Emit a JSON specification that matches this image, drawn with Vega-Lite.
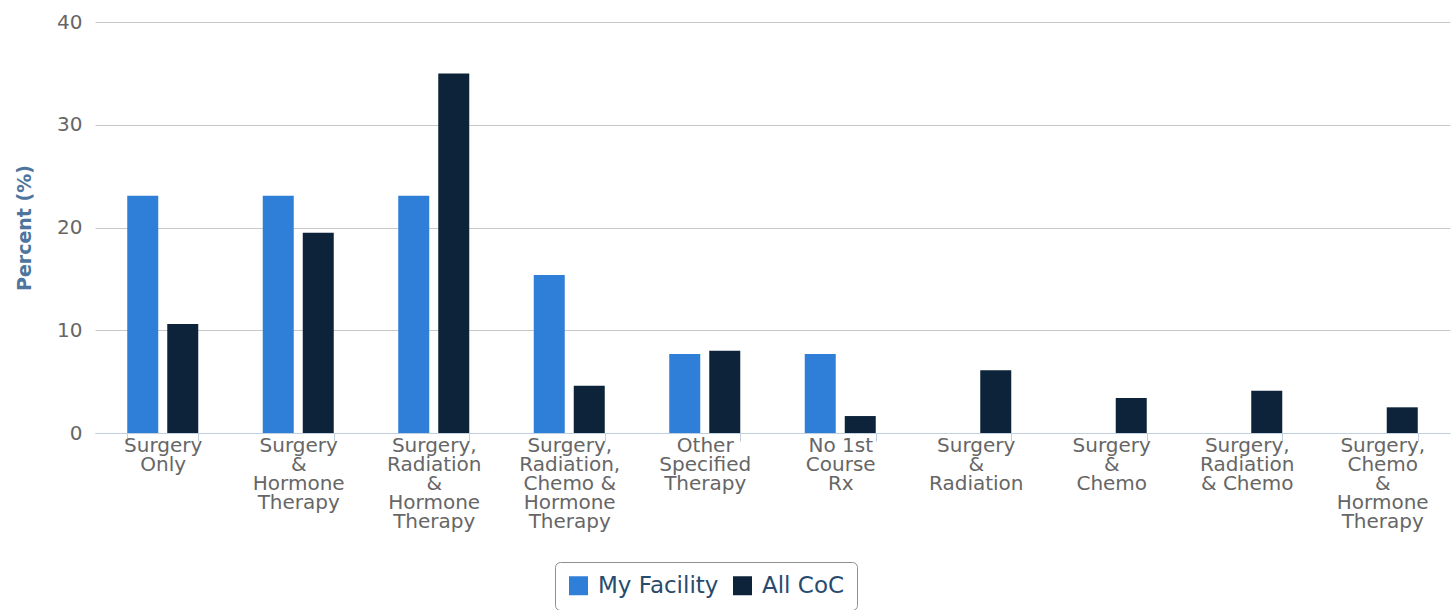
{
  "$schema": "https://vega.github.io/schema/vega-lite/v6.json",
  "width": 1355,
  "height": 411,
  "autosize": "none",
  "padding": {"left": 95, "top": 22, "right": 1, "bottom": 177},
  "background": "white",
  "config": {"view": {"stroke": null}},
  "data": {
    "values": [
      {"category": "Surgery Only", "series": "My Facility", "percent": 23.08},
      {"category": "Surgery Only", "series": "All CoC", "percent": 10.6},
      {"category": "Surgery & Hormone Therapy", "series": "My Facility", "percent": 23.08},
      {"category": "Surgery & Hormone Therapy", "series": "All CoC", "percent": 19.5},
      {"category": "Surgery, Radiation & Hormone Therapy", "series": "My Facility", "percent": 23.08},
      {"category": "Surgery, Radiation & Hormone Therapy", "series": "All CoC", "percent": 35.0},
      {"category": "Surgery, Radiation, Chemo & Hormone Therapy", "series": "My Facility", "percent": 15.38},
      {"category": "Surgery, Radiation, Chemo & Hormone Therapy", "series": "All CoC", "percent": 4.6},
      {"category": "Other Specified Therapy", "series": "My Facility", "percent": 7.69},
      {"category": "Other Specified Therapy", "series": "All CoC", "percent": 8.0},
      {"category": "No 1st Course Rx", "series": "My Facility", "percent": 7.69},
      {"category": "No 1st Course Rx", "series": "All CoC", "percent": 1.65},
      {"category": "Surgery & Radiation", "series": "My Facility", "percent": 0},
      {"category": "Surgery & Radiation", "series": "All CoC", "percent": 6.1},
      {"category": "Surgery & Chemo", "series": "My Facility", "percent": 0},
      {"category": "Surgery & Chemo", "series": "All CoC", "percent": 3.4},
      {"category": "Surgery, Radiation & Chemo", "series": "My Facility", "percent": 0},
      {"category": "Surgery, Radiation & Chemo", "series": "All CoC", "percent": 4.1},
      {"category": "Surgery, Chemo & Hormone Therapy", "series": "My Facility", "percent": 0},
      {"category": "Surgery, Chemo & Hormone Therapy", "series": "All CoC", "percent": 2.5}
    ]
  },
  "mark": {"type": "bar"},
  "encoding": {
    "x": {
      "field": "category",
      "type": "nominal",
      "sort": null,
      "scale": {"paddingInner": 0.476, "paddingOuter": 0.238},
      "axis": {
        "title": null,
        "labelAngle": 0,
        "labelFont": "DejaVu Sans",
        "labelFontSize": 20,
        "labelLineHeight": 19,
        "labelColor": "#666666",
        "labelPadding": -6,
        "labelBaseline": "top",
        "labelLimit": 200,
        "labelOverlap": false,
        "labelExpr": "({'Surgery Only': ['Surgery','Only'], 'Surgery & Hormone Therapy': ['Surgery','&','Hormone','Therapy'], 'Surgery, Radiation & Hormone Therapy': ['Surgery,','Radiation','&','Hormone','Therapy'], 'Surgery, Radiation, Chemo & Hormone Therapy': ['Surgery,','Radiation,','Chemo &','Hormone','Therapy'], 'Other Specified Therapy': ['Other','Specified','Therapy'], 'No 1st Course Rx': ['No 1st','Course','Rx'], 'Surgery & Radiation': ['Surgery','&','Radiation'], 'Surgery & Chemo': ['Surgery','&','Chemo'], 'Surgery, Radiation & Chemo': ['Surgery,','Radiation','& Chemo'], 'Surgery, Chemo & Hormone Therapy': ['Surgery,','Chemo','&','Hormone','Therapy']})[datum.value]",
        "domainColor": "#C0D0E0",
        "domainWidth": 1,
        "tickColor": "#C0D0E0",
        "tickSize": 8,
        "tickBand": "extent",
        "grid": false
      }
    },
    "xOffset": {
      "field": "series",
      "type": "nominal",
      "sort": ["My Facility", "All CoC"],
      "scale": {"paddingInner": 0.225, "paddingOuter": 0}
    },
    "y": {
      "field": "percent",
      "type": "quantitative",
      "scale": {"domain": [0, 40]},
      "axis": {
        "title": "Percent (%)",
        "titleFont": "DejaVu Sans",
        "titleFontSize": 19,
        "titleFontWeight": "bold",
        "titleColor": "#4d759e",
        "titlePadding": 22,
        "values": [0, 10, 20, 30, 40],
        "labelFont": "DejaVu Sans",
        "labelFontSize": 20,
        "labelColor": "#666666",
        "labelPadding": 13,
        "domain": false,
        "ticks": false,
        "gridColor": "#C8C8C8",
        "gridWidth": 1
      }
    },
    "color": {
      "field": "series",
      "type": "nominal",
      "sort": ["My Facility", "All CoC"],
      "scale": {"domain": ["My Facility", "All CoC"], "range": ["#2F7ED8", "#0D233A"]},
      "legend": {
        "title": null,
        "orient": "none",
        "direction": "horizontal",
        "legendX": 460,
        "legendY": 540,
        "strokeColor": "#909090",
        "cornerRadius": 5,
        "padding": 12,
        "symbolType": "square",
        "symbolSize": 361,
        "symbolStrokeWidth": 0,
        "symbolOpacity": 1,
        "labelOffset": 8,
        "labelFont": "DejaVu Sans",
        "labelFontSize": 23,
        "labelColor": "#274b6d",
        "labelLimit": 300,
        "columnPadding": 12
      }
    }
  }
}
